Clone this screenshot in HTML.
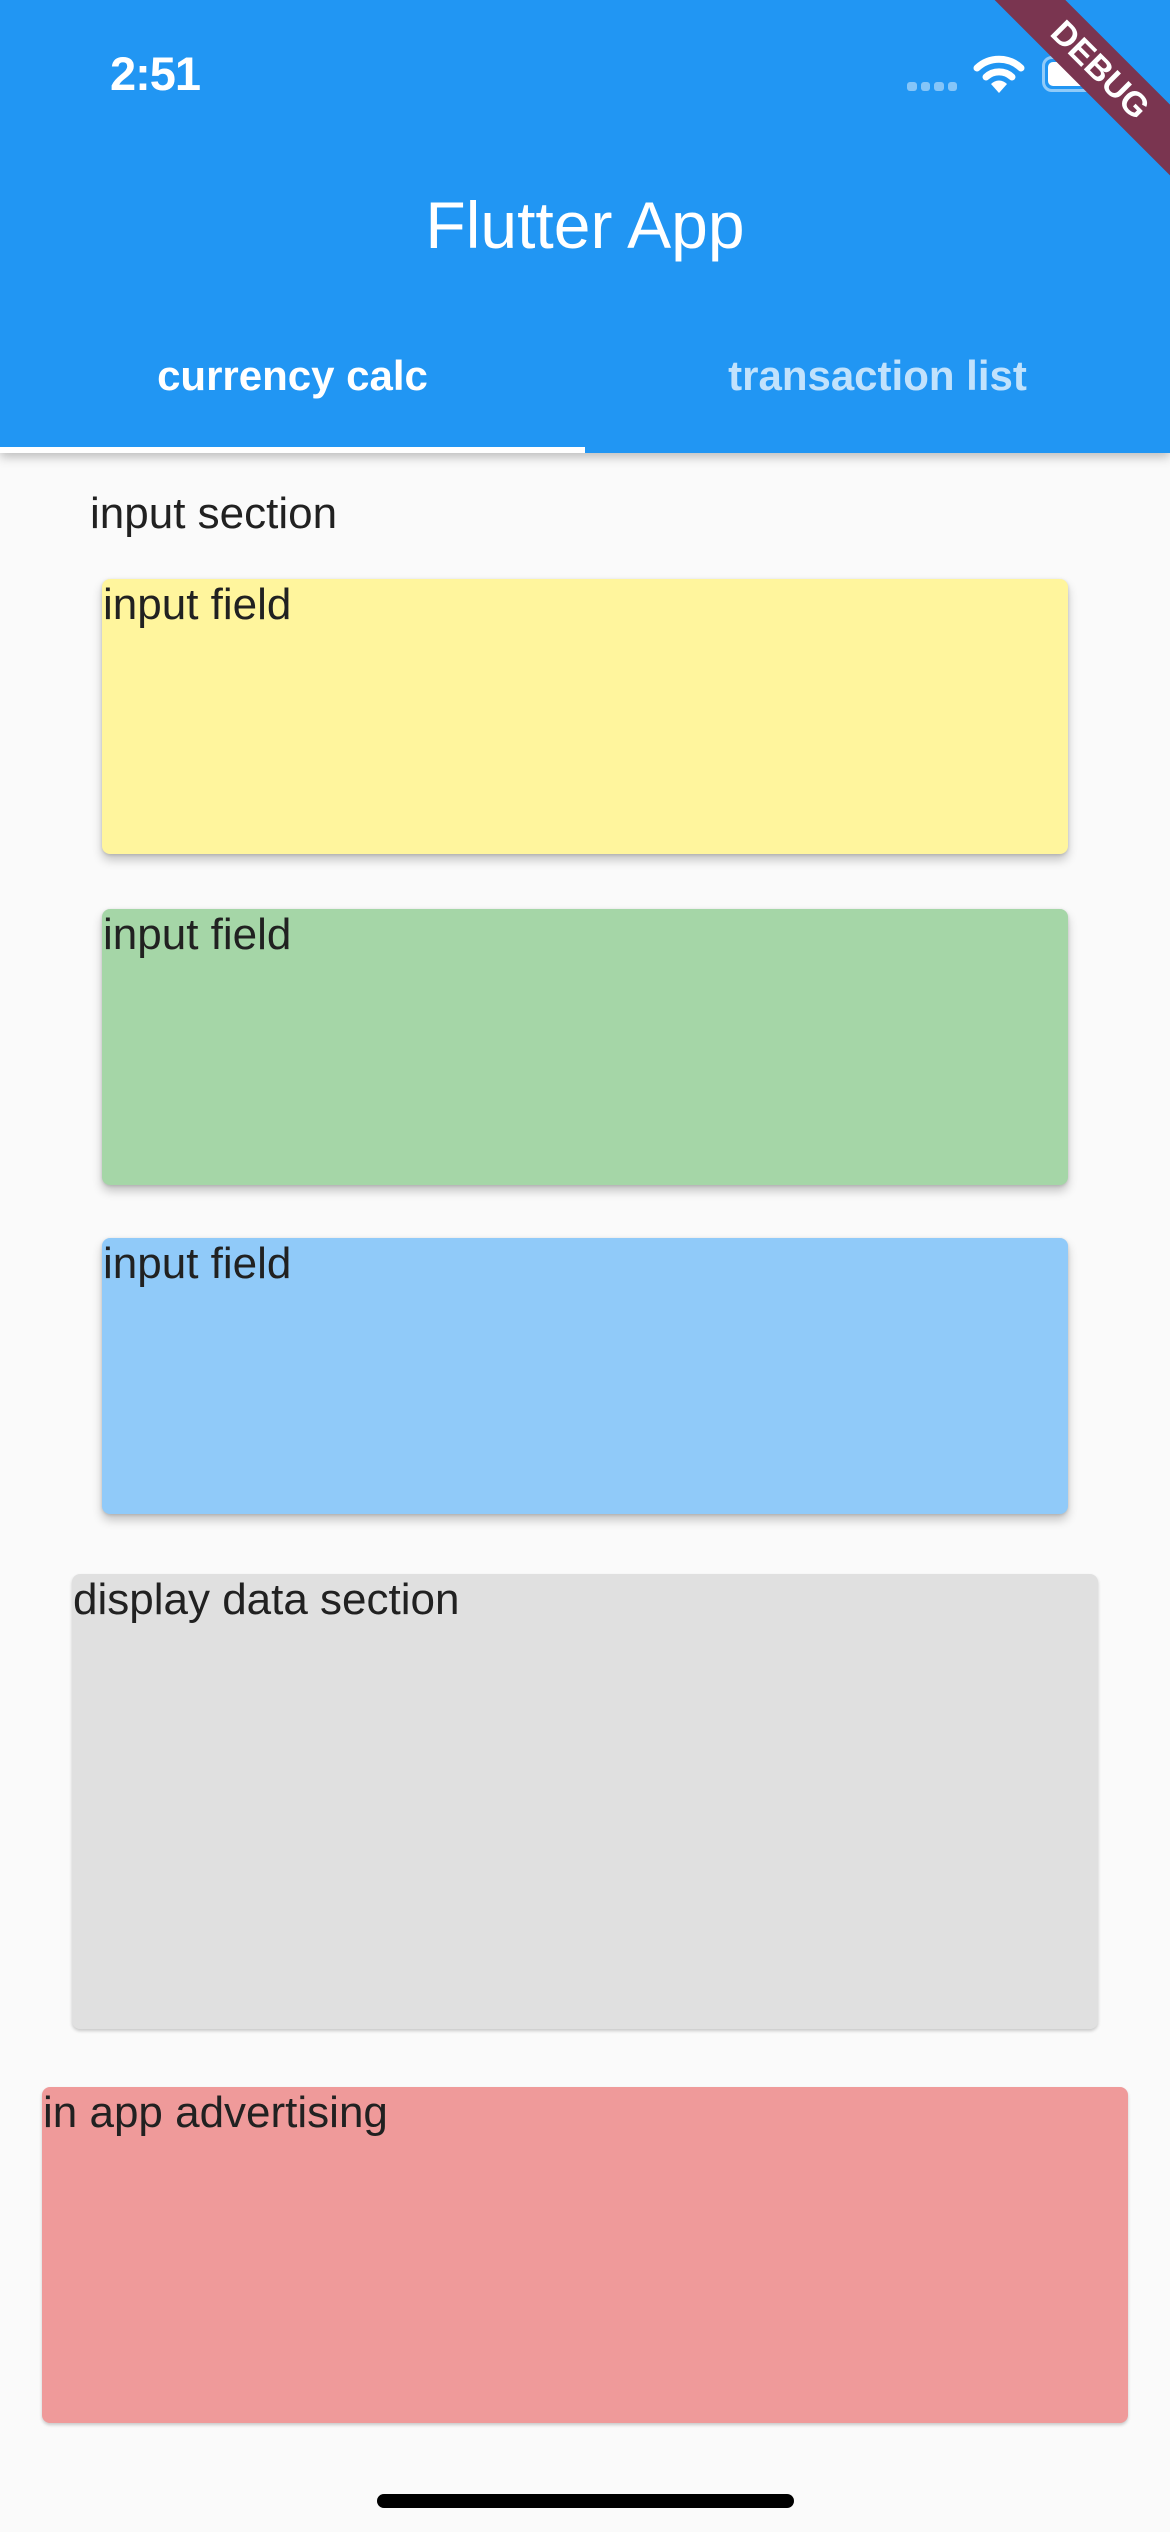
<!DOCTYPE html>
<html><head><meta charset="utf-8"><style>
*{margin:0;padding:0;box-sizing:border-box}
body{width:1170px;height:2532px;background:#fafafa;font-family:"Liberation Sans",sans-serif;position:relative;overflow:hidden;color:#212121}
.bar{position:absolute;left:0;top:0;width:1170px;height:453px;background:#2196f3;box-shadow:0 4px 10px rgba(0,0,0,.25)}
.abs{position:absolute;white-space:nowrap}
.box{position:absolute;border-radius:8px;font-size:44px;line-height:46px;padding-left:1px;padding-top:3px}
.sh{box-shadow:0 6px 10px rgba(0,0,0,.22),0 1px 3px rgba(0,0,0,.15)}
</style></head><body>
<div class="bar">
<div class="abs" style="left:110px;top:46px;font-size:47px;color:#fff;font-weight:bold;letter-spacing:-1px">2:51</div>
<div class="abs" style="left:907px;top:82px;width:50px;height:9px;display:flex;gap:4px">
<span style="flex:1;background:rgba(255,255,255,.45);border-radius:3px"></span><span style="flex:1;background:rgba(255,255,255,.45);border-radius:3px"></span><span style="flex:1;background:rgba(255,255,255,.45);border-radius:3px"></span><span style="flex:1;background:rgba(255,255,255,.45);border-radius:3px"></span></div>
<svg class="abs" style="left:973px;top:54px" width="52" height="40" viewBox="0 0 52 40"><path d="M4 14 A32 32 0 0 1 48 14" stroke="#fff" stroke-width="7" fill="none" stroke-linecap="round"/><path d="M13 23 A19 19 0 0 1 39 23" stroke="#fff" stroke-width="7" fill="none" stroke-linecap="round"/><path d="M26 39 L18 30 A11 11 0 0 1 34 30 Z" fill="#fff"/></svg>
<div class="abs" style="left:1042px;top:56px;width:64px;height:36px;border:3px solid rgba(255,255,255,.5);border-radius:10px;padding:3px"><div style="width:100%;height:100%;background:#fff;border-radius:5px"></div></div>
<div class="abs" style="left:0;width:1170px;top:187px;text-align:center;font-size:66px;color:#fff">Flutter App</div>
<div class="abs" style="left:0;width:585px;top:352px;text-align:center;font-size:42px;color:#fff;font-weight:bold">currency calc</div>
<div class="abs" style="left:585px;width:585px;top:352px;text-align:center;font-size:42px;color:rgba(255,255,255,.72);font-weight:bold">transaction list</div>
<div class="abs" style="left:0;top:447px;width:585px;height:6px;background:#fff"></div>
</div>
<div class="abs" style="left:1100px;top:70px;width:340px;height:50px;margin-left:-170px;margin-top:-25px;background:#7a3550;transform:rotate(45deg);color:#fff;font-weight:bold;font-size:34px;line-height:50px;text-align:center;z-index:5">DEBUG</div>
<div class="abs" style="left:90px;top:489px;font-size:44px">input section</div>
<div class="box sh" style="left:102px;top:579px;width:966px;height:275px;background:#fff59d">input field</div>
<div class="box sh" style="left:102px;top:909px;width:966px;height:276px;background:#a5d6a7">input field</div>
<div class="box sh" style="left:102px;top:1238px;width:966px;height:276px;background:#90caf9">input field</div>
<div class="box" style="left:72px;top:1574px;width:1026px;height:455px;background:#e0e0e0;box-shadow:0 2px 3px rgba(0,0,0,.2)">display data section</div>
<div class="box" style="left:42px;top:2087px;width:1086px;height:336px;background:#ef9a9a;box-shadow:0 2px 3px rgba(0,0,0,.2)">in app advertising</div>
<div class="abs" style="left:377px;top:2494px;width:417px;height:14px;background:#000;border-radius:7px"></div>
</body></html>
